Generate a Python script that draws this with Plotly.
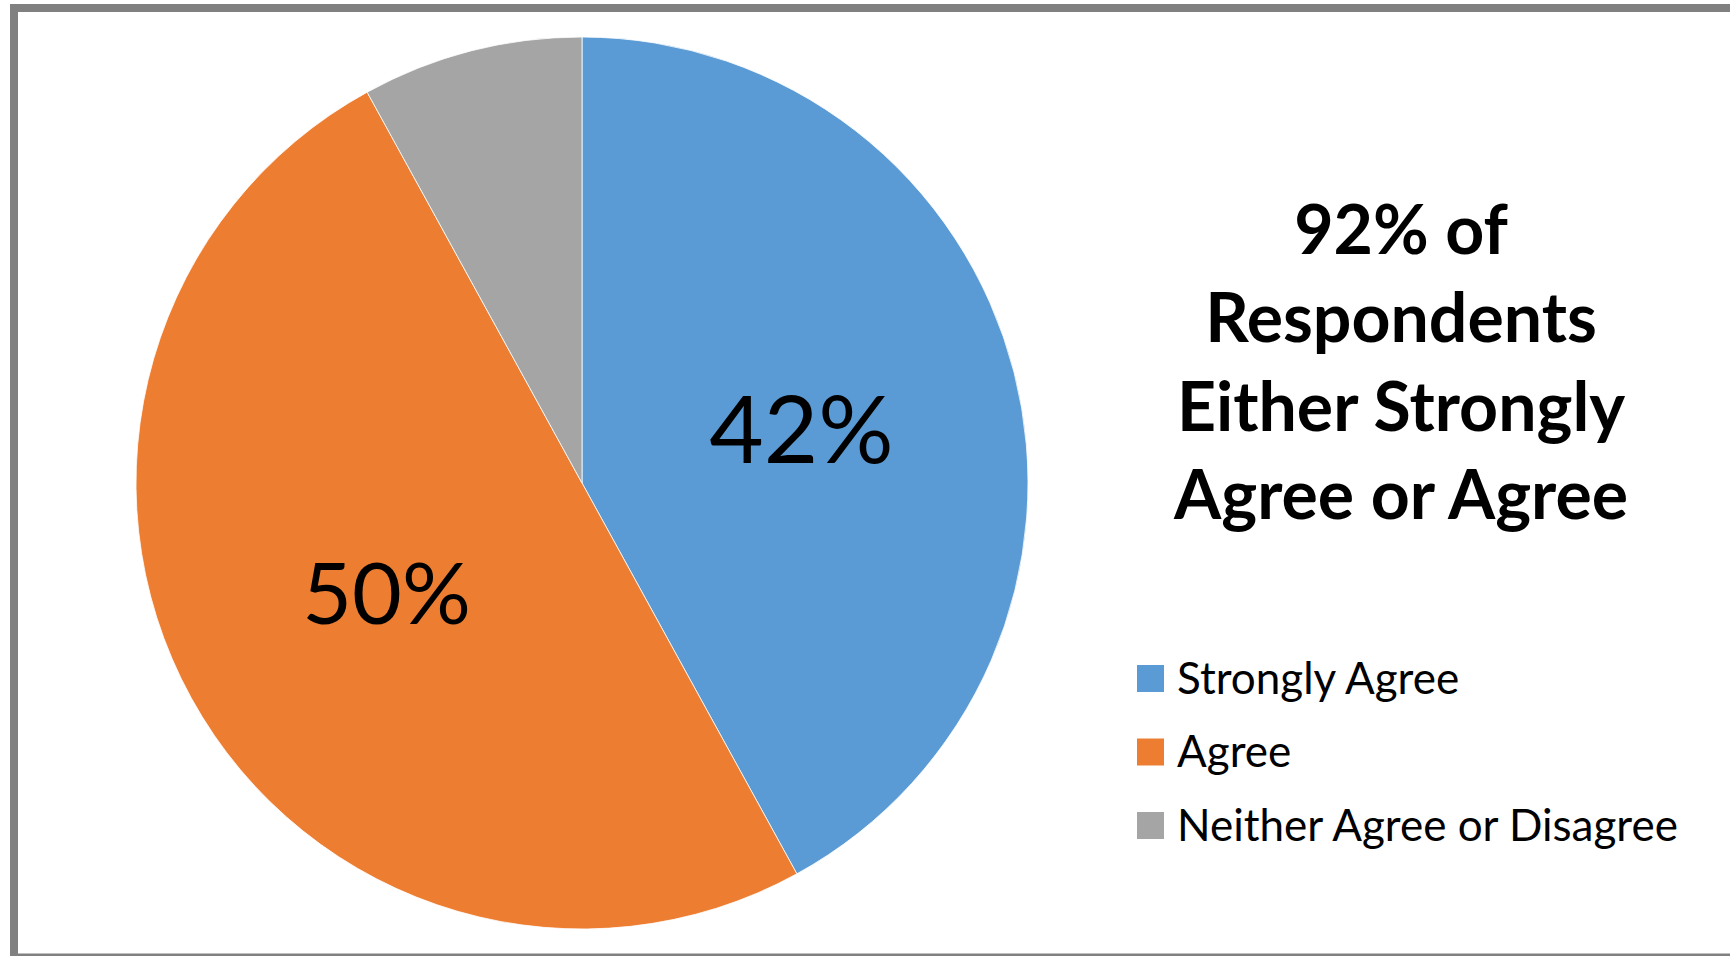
import plotly.graph_objects as go

categories = ["Strongly Agree", "Agree", "Neither Agree or Disagree"]
values = [42, 50, 8]
slice_labels = ["42%", "50%", ""]
colors = ["#5B9BD5", "#ED7D31", "#A5A5A5"]
title_lines = ["92% of", "Respondents", "Either Strongly", "Agree or Agree"]

W, H = 1730, 956
cx, cy, r = 582, 483, 446

fig = go.Figure()
fig.add_trace(go.Pie(
    labels=categories,
    values=values,
    text=slice_labels,
    textinfo="text",
    textposition="inside",
    insidetextorientation="horizontal",
    sort=False,
    direction="clockwise",
    rotation=0,
    marker=dict(colors=colors, line=dict(color="white", width=0.8)),
    textfont=dict(family="Lato", size=[94, 86, 86], color="black"),
    domain=dict(x=[(cx - r) / W, (cx + r) / W], y=[(H - cy - r) / H, (H - cy + r) / H]),
    showlegend=False,
    hoverinfo="label+percent",
))

# Title annotation
fig.add_annotation(
    x=1400 / W, y=1 - 360 / H, xref="paper", yref="paper",
    text="<br>".join(title_lines), showarrow=False,
    font=dict(family="Lato", size=68, color="black", weight="bold"),
    align="center", xanchor="center", yanchor="middle",
)

# Legend built from the category/color lists
leg_x0, leg_y0, leg_gap, sq = 1137, 678.5, 73.5, 27
for i, (lab, col) in enumerate(zip(categories, colors)):
    yc = leg_y0 + i * leg_gap
    fig.add_shape(type="rect", xref="paper", yref="paper",
                  x0=leg_x0 / W, x1=(leg_x0 + sq) / W,
                  y0=1 - (yc + sq / 2) / H, y1=1 - (yc - sq / 2) / H,
                  fillcolor=col, line=dict(width=0))
    fig.add_annotation(x=1175 / W, y=1 - (yc - 2) / H, xref="paper", yref="paper",
                       text=lab, showarrow=False, xanchor="left", yanchor="middle",
                       font=dict(family="Lato", size=44, color="black"))

# Outer frame
fig.add_shape(type="rect", xref="paper", yref="paper",
              x0=14 / W, x1=1734 / W, y0=1 - 957.5 / H, y1=1 - 8 / H,
              line=dict(color="#808080", width=8), fillcolor="rgba(0,0,0,0)")

fig.update_layout(
    width=W, height=H,
    margin=dict(l=0, r=0, t=0, b=0),
    paper_bgcolor="white", plot_bgcolor="white",
)

fig.write_html("out.html", config={"displayModeBar": False},
               post_script="document.body.style.margin='0';document.body.style.overflow='hidden';")
